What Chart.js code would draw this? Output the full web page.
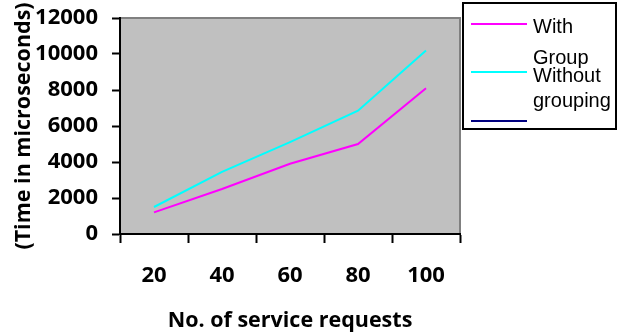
<!DOCTYPE html>
<html>
<head>
<meta charset="utf-8">
<script src="https://cdn.jsdelivr.net/npm/chart.js@4.4.0/dist/chart.umd.min.js"></script>
<style>
  html, body { margin:0; padding:0; background:#fff; }
  #wrap { width:625px; height:335px; position:relative; }
</style>
</head>
<body>
<div id="wrap"><canvas id="chart"></canvas></div>
<script>
const categories = ['20', '40', '60', '80', '100'];
const withGroup = [1200, 2500, 3900, 5000, 8100];
const withoutGrouping = [1500, 3450, 5100, 6850, 10200];
const emptySeries = [null, null, null, null, null];
const seriesLabels = [['With', 'Group'], ['Without', 'grouping'], ['']];
const seriesColors = ['#FF00FF', '#00FFFF', '#000080'];
const yTicks = [0, 2000, 4000, 6000, 8000, 10000, 12000];

const tickFont = { family:'"Open Sans"', size:22, weight:'bold' };
const titleFont = { family:'"Open Sans"', size:21.5, weight:'bold' };

// gray plot area, gray border top/right
const plotBg = {
  id:'plotBg',
  beforeDraw(chart) {
    const { ctx, chartArea:a } = chart;
    ctx.save();
    ctx.fillStyle = '#C0C0C0';
    ctx.fillRect(a.left, a.top, a.right - a.left, a.bottom - a.top);
    ctx.strokeStyle = '#808080';
    ctx.lineWidth = 2;
    ctx.beginPath();
    ctx.moveTo(a.left, a.top);
    ctx.lineTo(a.right, a.top);
    ctx.lineTo(a.right, a.bottom);
    ctx.stroke();
    ctx.restore();
  }
};

// boxed legend with wrapped labels
const boxLegend = {
  id:'boxLegend',
  afterDraw(chart) {
    const ctx = chart.ctx;
    ctx.save();
    ctx.fillStyle = '#fff';
    ctx.fillRect(463, 3, 153, 126);
    ctx.strokeStyle = '#000';
    ctx.lineWidth = 2;
    ctx.strokeRect(463, 3, 153, 126);
    const lineYs = [24, 72, 121];
    const textYs = [[33, 63.5], [81.5, 106.5], [0]];
    ctx.font = '20px "Liberation Sans", Arial, sans-serif';
    ctx.textBaseline = 'alphabetic';
    ctx.textAlign = 'left';
    chart.data.datasets.forEach((ds, i) => {
      ctx.strokeStyle = ds.borderColor;
      ctx.lineWidth = 2;
      ctx.beginPath();
      ctx.moveTo(471, lineYs[i]);
      ctx.lineTo(527, lineYs[i]);
      ctx.stroke();
      ctx.fillStyle = '#000';
      seriesLabels[i].forEach((t, j) => ctx.fillText(t, 533, textYs[i][j]));
    });
    ctx.restore();
  }
};

new Chart(document.getElementById('chart'), {
  type:'line',
  data:{
    labels:categories,
    datasets:[withGroup, withoutGrouping, emptySeries].map((d, i) => ({
      label:seriesLabels[i].join(' '),
      data:d,
      borderColor:seriesColors[i],
      backgroundColor:seriesColors[i],
      borderWidth:2,
      pointRadius:0,
      tension:0
    }))
  },
  options:{
    responsive:true,
    maintainAspectRatio:false,
    animation:false,
    layout:{ padding:{ top:18, right:165, left:0, bottom:0 } },
    plugins:{ legend:{ display:false }, tooltip:{ enabled:false } },
    scales:{
      x:{
        offset:true,
        grid:{ offset:true, drawOnChartArea:false, color:'#000', tickLength:9, tickWidth:2 },
        border:{ color:'#000', width:2 },
        ticks:{ font:tickFont, color:'#000', padding:20, maxRotation:0 },
        title:{ display:true, text:'No. of service requests', font:titleFont, color:'#000', padding:{ top:0, bottom:1 } },
        afterFit(s) { s.height = 101; s.paddingLeft = 0; s.paddingRight = 0; }
      },
      y:{
        min:0, max:12000,
        afterBuildTicks(s) { s.ticks = yTicks.map(v => ({ value:v })); },
        grid:{ drawOnChartArea:false, color:'#000', tickLength:8, tickWidth:2 },
        border:{ color:'#000', width:2 },
        ticks:{ font:tickFont, color:'#000', padding:14, callback:v => String(v) },
        title:{ display:true, text:'(Time in microseconds)', font:titleFont, color:'#000', padding:{ top:11, bottom:0 } },
        afterFit(s) { s.width = 120; s.paddingTop = 0; s.paddingBottom = 0; }
      }
    }
  },
  plugins:[plotBg, boxLegend]
});
</script>
</body>
</html>
